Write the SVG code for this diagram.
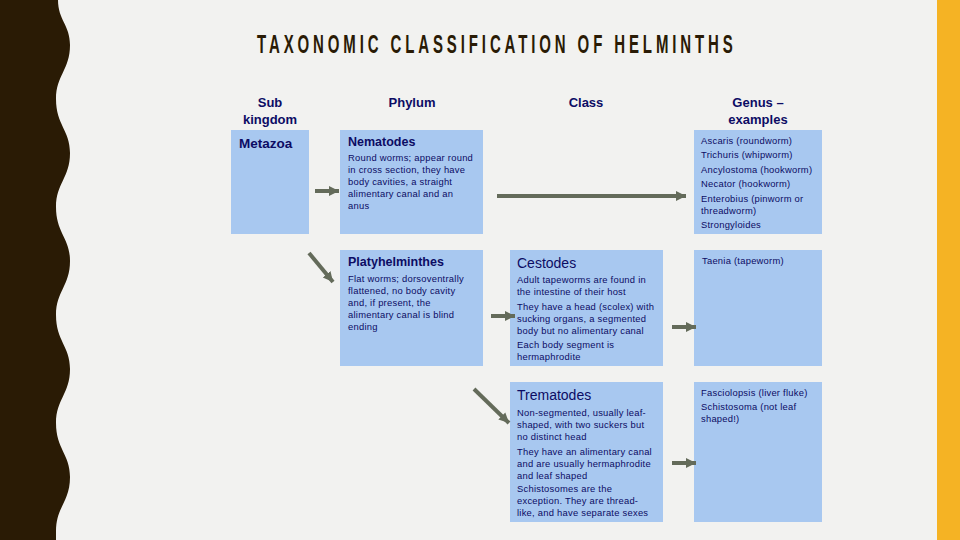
<svg xmlns="http://www.w3.org/2000/svg" width="960" height="540" viewBox="0 0 960 540">
<defs>
<style>
.bg{fill:#f2f2f0}
.box{fill:#a8c8f0}
.t{font-family:"Liberation Sans",Arial,sans-serif;fill:#0c0c64}
.hd{font-size:13px;font-weight:bold;text-anchor:middle}
.nm{font-size:12.5px;font-weight:bold}
.cl{font-size:14px}
.ds{font-size:9.4px;letter-spacing:0.25px}
.title{font-family:"Liberation Sans",Arial,sans-serif;font-weight:bold;font-size:25px;fill:#2a1b05}
.arr{stroke:#646b5a;stroke-width:4;fill:none;marker-end:url(#ah)}
</style>
<marker id="ah" markerUnits="userSpaceOnUse" markerWidth="12" markerHeight="12" refX="10" refY="6" orient="auto">
<path d="M0,1 L10,6 L0,11 Z" fill="#646b5a"/>
</marker>
</defs>
<rect class="bg" x="0" y="0" width="960" height="540"/>
<path fill="#2a1b05" d="M0,0 L58,0 C58,20 70,25 70,45 C70,70 56,75 56,99 C56,125 70,130 70,153 C70,178 56,183 56,207 C56,233 70,238 70,261 C70,286 56,291 56,315 C56,341 70,346 70,369 C70,394 56,399 56,423 C56,449 70,454 70,477 C70,502 56,507 56,531 L56,540 L0,540 Z"/>
<rect fill="#f5b324" x="937" y="0" width="23" height="540"/>
<text class="title" transform="translate(257,53) scale(0.6,1)" x="0" y="0" textLength="793" lengthAdjust="spacing">TAXONOMIC CLASSIFICATION OF HELMINTHS</text>
<g id="headers">
<text class="t hd" x="270" y="107">Sub</text>
<text class="t hd" x="270" y="124">kingdom</text>
<text class="t hd" x="412" y="107">Phylum</text>
<text class="t hd" x="586" y="107">Class</text>
<text class="t hd" x="758" y="107">Genus –</text>
<text class="t hd" x="758" y="124">examples</text>
</g>
<g id="metazoa">
<rect class="box" x="231" y="130" width="78" height="104"/>
<text class="t" x="239" y="148" font-size="13.5" font-weight="bold">Metazoa</text>
</g>
<g id="nematodes">
<rect class="box" x="340" y="130" width="143" height="104"/>
<text class="t nm" x="348" y="146">Nematodes</text>
<text class="t ds" x="348" y="161">Round worms; appear round</text>
<text class="t ds" x="348" y="173">in cross section, they have</text>
<text class="t ds" x="348" y="185">body cavities, a straight</text>
<text class="t ds" x="348" y="197">alimentary canal and an</text>
<text class="t ds" x="348" y="209">anus</text>
</g>
<g id="genus-nematodes">
<rect class="box" x="694" y="130" width="128" height="104"/>
<text class="t ds" x="701" y="144">Ascaris (roundworm)</text>
<text class="t ds" x="701" y="158">Trichuris (whipworm)</text>
<text class="t ds" x="701" y="173">Ancylostoma (hookworm)</text>
<text class="t ds" x="701" y="187">Necator (hookworm)</text>
<text class="t ds" x="701" y="202">Enterobius (pinworm or</text>
<text class="t ds" x="701" y="214">threadworm)</text>
<text class="t ds" x="701" y="228">Strongyloides</text>
</g>
<g id="platyhelminthes">
<rect class="box" x="340" y="250" width="143" height="116"/>
<text class="t nm" x="348" y="266">Platyhelminthes</text>
<text class="t ds" x="348" y="282">Flat worms; dorsoventrally</text>
<text class="t ds" x="348" y="294">flattened, no body cavity</text>
<text class="t ds" x="348" y="306">and, if present, the</text>
<text class="t ds" x="348" y="318">alimentary canal is blind</text>
<text class="t ds" x="348" y="330">ending</text>
</g>
<g id="cestodes">
<rect class="box" x="510" y="250" width="153" height="116"/>
<text class="t cl" x="517" y="268">Cestodes</text>
<text class="t ds" x="517" y="283">Adult tapeworms are found in</text>
<text class="t ds" x="517" y="295">the intestine of their host</text>
<text class="t ds" x="517" y="310">They have a head (scolex) with</text>
<text class="t ds" x="517" y="322">sucking organs, a segmented</text>
<text class="t ds" x="517" y="334">body but no alimentary canal</text>
<text class="t ds" x="517" y="348">Each body segment is</text>
<text class="t ds" x="517" y="360">hermaphrodite</text>
</g>
<g id="taenia">
<rect class="box" x="694" y="250" width="128" height="116"/>
<text class="t ds" x="702" y="264">Taenia (tapeworm)</text>
</g>
<g id="trematodes">
<rect class="box" x="510" y="382" width="153" height="140"/>
<text class="t cl" x="517" y="400">Trematodes</text>
<text class="t ds" x="517" y="416">Non-segmented, usually leaf-</text>
<text class="t ds" x="517" y="428">shaped, with two suckers but</text>
<text class="t ds" x="517" y="440">no distinct head</text>
<text class="t ds" x="517" y="455">They have an alimentary canal</text>
<text class="t ds" x="517" y="467">and are usually hermaphrodite</text>
<text class="t ds" x="517" y="479">and leaf shaped</text>
<text class="t ds" x="517" y="492">Schistosomes are the</text>
<text class="t ds" x="517" y="504">exception. They are thread-</text>
<text class="t ds" x="517" y="516">like, and have separate sexes</text>
</g>
<g id="genus-trematodes">
<rect class="box" x="694" y="382" width="128" height="140"/>
<text class="t ds" x="701" y="396">Fasciolopsis (liver fluke)</text>
<text class="t ds" x="701" y="410">Schistosoma (not leaf</text>
<text class="t ds" x="701" y="422">shaped!)</text>
</g>
<g id="connectors">
<line class="arr" x1="315" y1="191" x2="339" y2="191"/>
<line class="arr" x1="497" y1="196" x2="686" y2="196"/>
<line class="arr" x1="309" y1="253" x2="333" y2="282"/>
<line class="arr" x1="491" y1="316" x2="515" y2="316"/>
<line class="arr" x1="672" y1="327" x2="696" y2="327"/>
<line class="arr" x1="474" y1="389" x2="509" y2="423"/>
<line class="arr" x1="672" y1="463" x2="696" y2="463"/>
</g>
</svg>
